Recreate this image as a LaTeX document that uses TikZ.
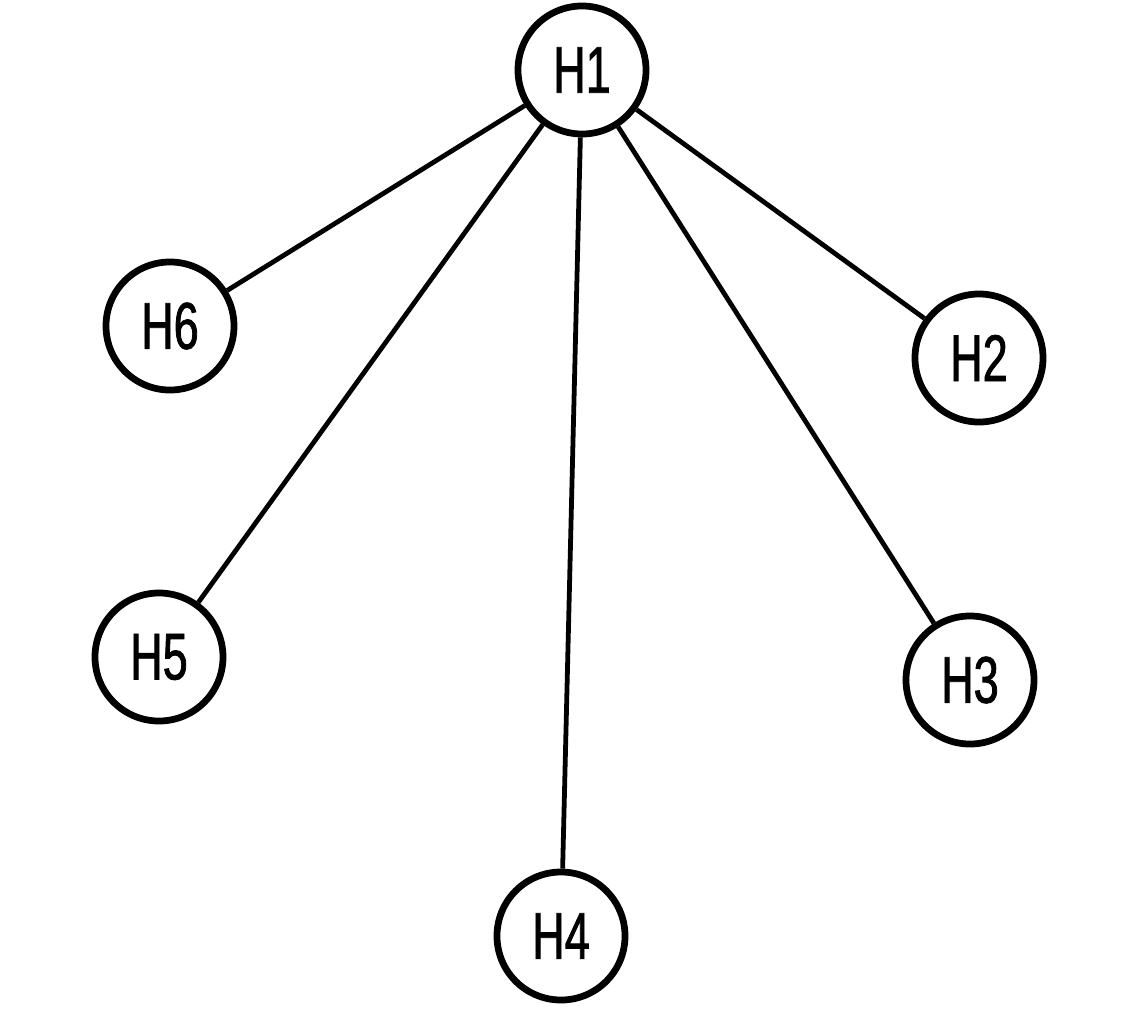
\documentclass[tikz,border=0pt]{standalone}
\usepackage{fontspec}
\newfontfamily\hfont[FakeStretch=0.68,FakeBold=1.2]{Liberation Sans}
\begin{document}
\begin{tikzpicture}[x=0.025cm,y=-0.025cm,
	host/.style={circle,draw,line width=4.8pt,minimum size=3.2cm,inner sep=0pt,font=\hfont\fontsize{47}{50}\selectfont},
	link/.style={line width=3.4pt}]
	\useasboundingbox (0,0) rectangle (1122,1027);
	\node[host] (h1) at (582,70) {H1};
	\node[host] (h2) at (979,358) {H2};
	\node[host] (h3) at (970,680) {H3};
	\node[host] (h4) at (561,936) {H4};
	\node[host] (h5) at (159,657) {H5};
	\node[host] (h6) at (170,326) {H6};
	\draw[link] (h1) -- (h2);
	\draw[link] (h1) -- (h3);
	\draw[link] (h1) -- (h4);
	\draw[link] (h1) -- (h5);
	\draw[link] (h1) -- (h6);
\end{tikzpicture}
\end{document}
